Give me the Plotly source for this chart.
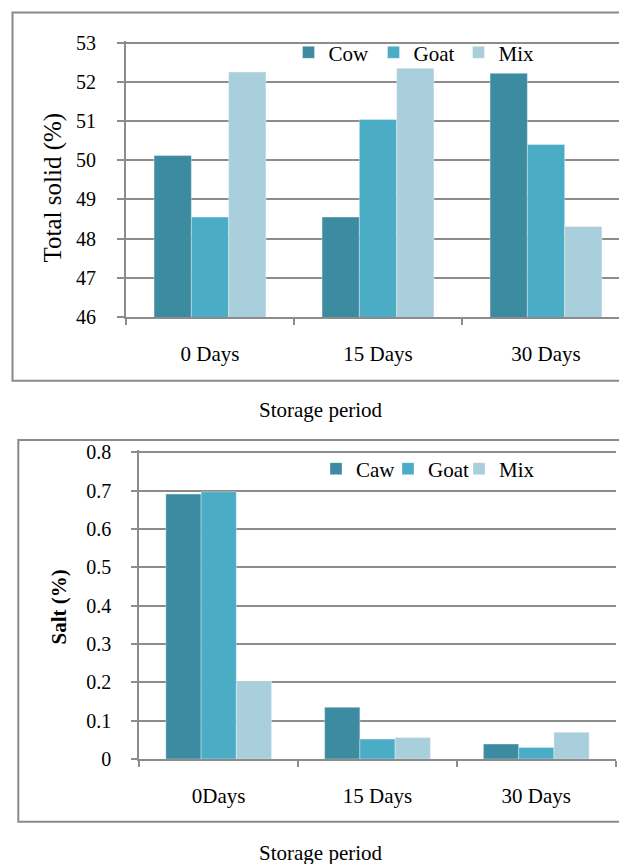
import plotly.graph_objects as go

# ---- data -------------------------------------------------------------
periods_solid = ["0 Days", "15 Days", "30 Days"]
periods_salt = ["0Days", "15 Days", "30 Days"]

solid_cow = [50.12, 48.55, 52.22]
solid_goat = [48.55, 51.04, 50.40]
solid_mix = [52.25, 52.35, 48.31]

salt_caw = [0.691, 0.135, 0.039]
salt_goat = [0.697, 0.052, 0.030]
salt_mix = [0.203, 0.056, 0.070]

solid_tickvals = [46, 47, 48, 49, 50, 51, 52, 53]
salt_tickvals = [0, 0.1, 0.2, 0.3, 0.4, 0.5, 0.6, 0.7, 0.8]
salt_ticktext = ["0", "0.1", "0.2", "0.3", "0.4", "0.5", "0.6", "0.7", "0.8"]

# ---- styling ----------------------------------------------------------
W, H = 619, 864
FONT = "Liberation Serif, Times New Roman, serif"
C_COW = "#3C8BA1"
C_GOAT = "#4BACC6"
C_MIX = "#A9CEDC"
GRID = "#8C8C8C"
EDGE = "rgba(255,255,255,0.35)"


def px(x):
    return x / W


def py(y):
    return 1 - y / H


fig = go.Figure()

# top panel: total solid
top_series = [("Cow", solid_cow, C_COW, 40), ("Goat", solid_goat, C_GOAT, 40), ("Mix", solid_mix, C_MIX, 45)]
for name, vals, col, lw in top_series:
    fig.add_trace(go.Bar(
        x=periods_solid, y=vals, name=name, marker=dict(color=col, line=dict(color=EDGE, width=1)),
        xaxis="x", yaxis="y", legend="legend", legendwidth=lw, hoverinfo="skip",
    ))

# bottom panel: salt
bot_series = [("Caw", salt_caw, C_COW, 27), ("Goat", salt_goat, C_GOAT, 26), ("Mix", salt_mix, C_MIX, 45)]
for name, vals, col, lw in bot_series:
    fig.add_trace(go.Bar(
        x=periods_salt, y=vals, name=name, marker=dict(color=col, line=dict(color=EDGE, width=1)),
        xaxis="x2", yaxis="y2", legend="legend2", legendwidth=lw, hoverinfo="skip",
    ))

cat_top = 168.0          # px per category, top panel
x0_top = 126.0
y_top_53, y_top_46 = 42.7, 317.0
pu_top = (y_top_46 - y_top_53) / 7.0
ext_top = 0.045

x0_bot, x1_bot = 139.3, 615.7
y_bot_08, y_bot_0 = 452.3, 759.0
pu_bot = (y_bot_0 - y_bot_08) / 0.8
ext_bot = 0.005

axis_common = dict(
    showline=True, linecolor=GRID, linewidth=2,
    ticks="outside", tickcolor=GRID, tickwidth=2,
    tickfont=dict(family=FONT, size=20, color="#000000"),
    fixedrange=True, automargin=False,
)
xtick_font = dict(family=FONT, size=21, color="#000000")

fig.update_layout(
    template="none",
    width=W, height=H, autosize=False,
    margin=dict(l=0, r=0, t=0, b=0, pad=0),
    paper_bgcolor="white", plot_bgcolor="white",
    barmode="group", bargap=0.334, bargroupgap=0,
    font=dict(family=FONT, color="#000000"),
    xaxis=dict(
        domain=[px(x0_top), 1],
        range=[-0.5, -0.5 + (W - x0_top) / cat_top],
        type="category", tickson="boundaries", ticklen=6,
        showgrid=False, anchor="y", ticklabelstandoff=17,
        **{**axis_common, "tickfont": xtick_font},
    ),
    yaxis=dict(
        domain=[py(y_top_46), py(y_top_53 - ext_top * pu_top)],
        range=[46, 53 + ext_top],
        tickvals=solid_tickvals, ticklen=7,
        showgrid=True, gridcolor=GRID, gridwidth=2, zeroline=False,
        anchor="x", ticklabelstandoff=17,
        **axis_common,
    ),
    xaxis2=dict(
        domain=[px(x0_bot), px(x1_bot)],
        range=[-0.5, 2.5],
        type="category", tickson="boundaries", ticklen=6,
        showgrid=False, anchor="y2", ticklabelstandoff=17,
        **{**axis_common, "tickfont": xtick_font},
    ),
    yaxis2=dict(
        domain=[py(y_bot_0), py(y_bot_08 - ext_bot * pu_bot)],
        range=[0, 0.8 + ext_bot],
        tickvals=salt_tickvals, ticktext=salt_ticktext, ticklen=6,
        showgrid=True, gridcolor=GRID, gridwidth=2, zeroline=False,
        anchor="x2", ticklabelstandoff=16,
        **axis_common,
    ),
    legend=dict(
        orientation="h", x=px(288.5), xanchor="left", y=py(52.7), yanchor="middle",
        bgcolor="rgba(0,0,0,0)", borderwidth=0,
        font=dict(family=FONT, size=21, color="#000000"),
    ),
    legend2=dict(
        orientation="h", x=px(316), xanchor="left", y=py(469), yanchor="middle",
        bgcolor="rgba(0,0,0,0)", borderwidth=0,
        font=dict(family=FONT, size=21, color="#000000"),
    ),
    showlegend=True,
)

# outer frames around each panel
fig.add_shape(type="rect", xref="paper", yref="paper",
              x0=px(12.5), x1=px(W + 10), y0=py(380.7), y1=py(12.5),
              line=dict(color="#8A8A8A", width=2), fillcolor="rgba(0,0,0,0)", layer="below")
fig.add_shape(type="rect", xref="paper", yref="paper",
              x0=px(18.3), x1=px(W + 10), y0=py(821.7), y1=py(440),
              line=dict(color="#8A8A8A", width=2), fillcolor="rgba(0,0,0,0)", layer="below")

# axis titles
fig.add_annotation(text="Total solid (%)", xref="paper", yref="paper",
                   x=px(53), y=py(187.5), textangle=-90, showarrow=False,
                   xanchor="center", yanchor="middle",
                   font=dict(family=FONT, size=25, color="#000000"))
fig.add_annotation(text="<b>Salt (%)</b>", xref="paper", yref="paper",
                   x=px(58), y=py(607.5), textangle=-90, showarrow=False,
                   xanchor="center", yanchor="middle",
                   font=dict(family=FONT, size=21, color="#000000"))
for yc in (410.5, 853.0):
    fig.add_annotation(text="Storage period", xref="paper", yref="paper",
                       x=px(321), y=py(yc), showarrow=False,
                       xanchor="center", yanchor="middle",
                       font=dict(family=FONT, size=21, color="#000000"))

fig.write_html("out.html")
